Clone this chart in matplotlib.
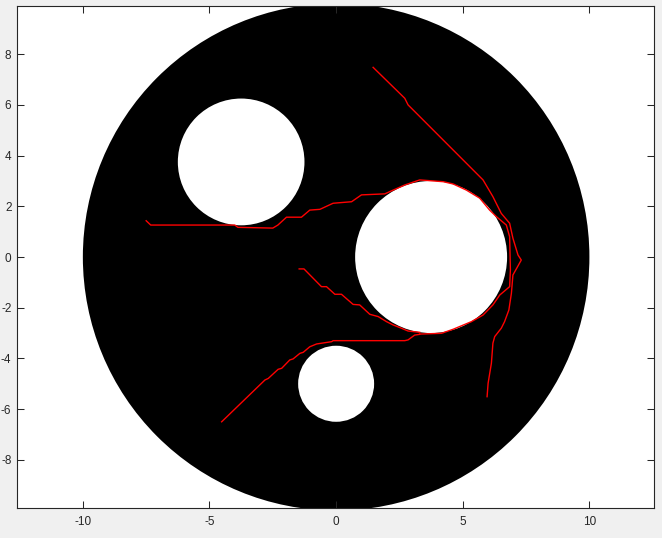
import matplotlib
matplotlib.use("Agg")
import matplotlib.pyplot as plt
from matplotlib.patches import Circle

# Domain: outer disk and circular holes (center x, center y, radius)
disk = (0.0, 0.0, 10.0)
holes_x = [-3.75, 3.75, 0.0]
holes_y = [3.75, 0.0, -5.0]
holes_r = [2.5, 3.0, 1.5]

# Red paths
path_a_x = [1.46, 2.71, 2.84, 5.80, 6.19, 6.52, 6.85, 6.98, 7.18, 7.31, 6.98, 6.92, 6.82, 6.65, 6.52, 6.26, 6.19, 6.13, 6.00, 5.96]
path_a_y = [7.48, 6.26, 6.00, 3.04, 2.38, 1.72, 1.33, 0.74, 0.08, -0.12, -0.71, -1.43, -2.09, -2.55, -2.81, -3.14, -3.40, -4.19, -4.98, -5.51]

path_b_x = [-7.50, -7.32, -4.00, -3.88, -2.50, -2.30, -1.96, -1.37, -1.04, -0.64, -0.12, 0.61, 1.00, 1.92, 2.12, 2.71, 3.30,
            4.23, 4.62, 5.14, 5.67, 6.06, 6.33, 6.72, 6.85, 6.88, 6.85, 6.46, 6.19, 5.80, 5.34, 4.62, 4.16, 3.30]
path_b_y = [1.43, 1.26, 1.26, 1.17, 1.14, 1.26, 1.57, 1.57, 1.85, 1.88, 2.12, 2.18, 2.45, 2.49, 2.58, 2.84, 3.04,
            2.97, 2.88, 2.64, 2.32, 1.85, 1.59, 1.26, 0.80, -0.50, -1.17, -1.50, -1.89, -2.29, -2.55, -2.85, -3.01, -3.04]

path_d_x = [3.30, 3.10, 2.84, 2.71, -0.12, -0.18, -0.77, -1.04, -1.30, -1.43, -1.70, -1.83, -2.15, -2.29, -2.68, -2.81, -4.52]
path_d_y = [-3.05, -3.08, -3.27, -3.30, -3.30, -3.34, -3.43, -3.54, -3.76, -3.80, -4.02, -4.06, -4.39, -4.43, -4.79, -4.85, -6.50]

path_c_x = [-1.46, -1.27, -0.58, -0.38, -0.05, 0.21, 0.67, 0.93, 1.33, 1.66, 1.99, 2.25, 2.58, 2.84, 3.30]
path_c_y = [-0.47, -0.47, -1.17, -1.17, -1.47, -1.47, -1.87, -1.89, -2.26, -2.35, -2.55, -2.68, -2.81, -2.92, -2.97]

x_ticks = [-10, -5, 0, 5, 10]
y_ticks = [-8, -6, -4, -2, 0, 2, 4, 6, 8]

plt.rcParams['font.family'] = ['Liberation Sans', 'DejaVu Sans']
plt.rcParams['axes.unicode_minus'] = False

fig = plt.figure(figsize=(6.62, 5.38), dpi=100, facecolor='#f0f0f0')
ax = fig.add_axes([17/662, 30/538, 637/662, 502/538])
ax.set_facecolor('white')

ax.add_patch(Circle((disk[0], disk[1]), disk[2], facecolor='black', edgecolor='none', zorder=1))
for hx, hy, hr in zip(holes_x, holes_y, holes_r):
    ax.add_patch(Circle((hx, hy), hr, facecolor='white', edgecolor='none', zorder=2))

for px, py in [(path_a_x, path_a_y), (path_b_x, path_b_y), (path_d_x, path_d_y), (path_c_x, path_c_y)]:
    ax.plot(px, py, color='#ff0000', lw=1.0, zorder=3)

ax.set_xlim(-12.6, 12.55)
ax.set_ylim(-9.9, 9.9)
ax.set_xticks(x_ticks)
ax.set_yticks(y_ticks)
ax.tick_params(direction='in', length=5, width=0.75, color='#262626', labelcolor='#262626',
               labelsize=8.5, top=True, right=True, pad=4)
ax.tick_params(axis='x', pad=6)
for s in ax.spines.values():
    s.set_color('#262626')
    s.set_linewidth(0.8)
    s.set_zorder(5)

fig.savefig('out.png', dpi=100, facecolor=fig.get_facecolor())
